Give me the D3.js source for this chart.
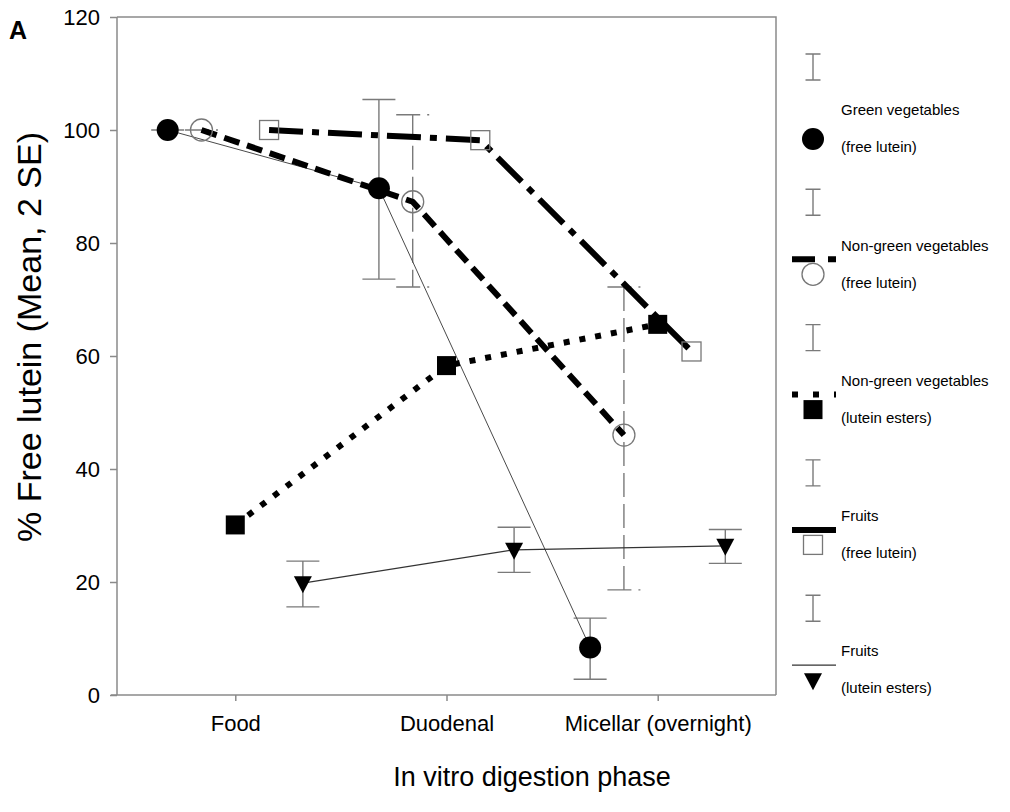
<!DOCTYPE html>
<html>
<head>
<meta charset="utf-8">
<script src="https://cdn.jsdelivr.net/npm/d3@7"></script>
<style>
  html, body { margin: 0; padding: 0; background: #fff; }
  svg text { font-family: "Liberation Sans", Arial, sans-serif; fill: #000; }
</style>
</head>
<body>
<svg id="chart" width="1010" height="812"></svg>
<script>
// Digestion phases along the x axis
const phases = ["Food", "Duodenal", "Micellar (overnight)"];
const yTicks = [0, 20, 40, 60, 80, 100, 120];

// % free lutein per phase (mean) and ±2 SE bounds
const greenFreeMean = [100, 89.7, 8.4];
const greenFreeHi   = [100, 105.4, 13.6];
const greenFreeLo   = [100, 73.6, 2.8];

const nonGreenFreeMean = [100, 87.3, 46.0];
const nonGreenFreeHi   = [100, 102.7, 72.2];
const nonGreenFreeLo   = [100, 72.2, 18.6];

const nonGreenEsterMean = [30.1, 58.3, 65.6];

const fruitFreeMean = [100, 98.2, 60.8];

const fruitEsterMean = [19.8, 25.7, 26.4];
const fruitEsterHi   = [23.7, 29.7, 29.3];
const fruitEsterLo   = [15.6, 21.7, 23.3];

const legendTitles = ["Green vegetables", "Non-green vegetables", "Non-green vegetables", "Fruits", "Fruits"];
const legendSubs = ["(free lutein)", "(free lutein)", "(lutein esters)", "(free lutein)", "(lutein esters)"];

const svg = d3.select("#chart");
const frame = { left: 117, right: 776, top: 17, bottom: 695 };

const x = d3.scaleLinear().domain([0.44, 3.56]).range([frame.left, frame.right]);
const y = d3.scaleLinear().domain([0, 120]).range([frame.bottom, frame.top]);

const axisGrey = "#8a8a8a";
const barGrey = "#7a7a7a";

// Series definitions: offset within each phase, line style and marker
const series = [
  { mean: greenFreeMean, hi: greenFreeHi, lo: greenFreeLo, offset: -0.32,
    stroke: "#4a4a4a", width: 1, dash: null, marker: "circle", barDash: null },
  { mean: nonGreenFreeMean, hi: nonGreenFreeHi, lo: nonGreenFreeLo, offset: -0.16,
    stroke: "#000", width: 6, dash: "16,8", marker: "openCircle", barDash: "24,7" },
  { mean: nonGreenEsterMean, offset: 0,
    stroke: "#000", width: 6, dash: "6,10", marker: "square" },
  { mean: fruitFreeMean, offset: 0.16,
    stroke: "#000", width: 6, dash: "34,9,7,9", marker: "openSquare" },
  { mean: fruitEsterMean, hi: fruitEsterHi, lo: fruitEsterLo, offset: 0.32,
    stroke: "#333", width: 1.2, dash: null, marker: "triangle", barDash: null }
];

// Frame (top and right edges) and axes
svg.append("path")
  .attr("d", `M${frame.left},${frame.top}H${frame.right}V${frame.bottom}`)
  .attr("fill", "none").attr("stroke", axisGrey).attr("stroke-width", 1.5);

const yAxis = svg.append("g")
  .attr("transform", `translate(${frame.left},0)`)
  .call(d3.axisLeft(y).tickValues(yTicks).tickSize(7).tickPadding(10));
yAxis.select(".domain").attr("stroke", axisGrey).attr("stroke-width", 1.5)
  .attr("d", `M0,${frame.top}V${frame.bottom}`);
yAxis.selectAll(".tick line").attr("stroke", axisGrey).attr("stroke-width", 1.5);
yAxis.selectAll(".tick text").attr("font-size", 22).attr("dy", "0.36em");

const xAxis = svg.append("g")
  .attr("transform", `translate(0,${frame.bottom})`)
  .call(d3.axisBottom(x).tickValues([1, 2, 3]).tickFormat((d) => phases[d - 1]).tickSize(6).tickPadding(14));
xAxis.select(".domain").attr("stroke", axisGrey).attr("stroke-width", 1.5)
  .attr("d", `M${frame.left - 6},0H${frame.right}`);
xAxis.selectAll(".tick line").attr("stroke", axisGrey).attr("stroke-width", 1.5);
xAxis.selectAll(".tick text").attr("font-size", 22);

// Axis titles and panel letter
svg.append("text").attr("x", 532).attr("y", 786).attr("text-anchor", "middle")
  .attr("font-size", 27).text("In vitro digestion phase");
svg.append("text").attr("transform", "translate(41,337) rotate(-90)").attr("text-anchor", "middle")
  .attr("font-size", 34).text("% Free lutein (Mean, 2 SE)");
svg.append("text").attr("x", 9).attr("y", 39).attr("font-size", 25).attr("font-weight", "bold").text("A");

const px = (s, i) => x(i + 1 + s.offset);

// Error bars
const capHalf = 16.5;
series.forEach((s) => {
  if (!s.hi) return;
  const g = svg.append("g").attr("stroke", barGrey).attr("stroke-width", 1.4).attr("fill", "none");
  s.mean.forEach((m, i) => {
    const cx = px(s, i);
    const path = d3.path();
    path.moveTo(cx, y(s.hi[i])); path.lineTo(cx, y(s.lo[i]));
    path.moveTo(cx - capHalf, y(s.hi[i])); path.lineTo(cx + capHalf, y(s.hi[i]));
    path.moveTo(cx - capHalf, y(s.lo[i])); path.lineTo(cx + capHalf, y(s.lo[i]));
    g.append("path").attr("d", path.toString()).attr("stroke-dasharray", s.barDash);
  });
});

// Connecting lines
const line = d3.line();
series.forEach((s) => {
  svg.append("path")
    .attr("d", line(s.mean.map((m, i) => [px(s, i), y(m)])))
    .attr("fill", "none").attr("stroke", s.stroke).attr("stroke-width", s.width)
    .attr("stroke-dasharray", s.dash);
});

// Marker drawing shared by plot and legend
function drawMarker(g, type, cx, cy) {
  if (type === "circle") {
    g.append("circle").attr("cx", cx).attr("cy", cy).attr("r", 11).attr("fill", "#000");
  } else if (type === "openCircle") {
    g.append("circle").attr("cx", cx).attr("cy", cy).attr("r", 11)
      .attr("fill", "none").attr("stroke", "#777").attr("stroke-width", 1.3);
  } else if (type === "square") {
    g.append("rect").attr("x", cx - 9.5).attr("y", cy - 9.5).attr("width", 19).attr("height", 19).attr("fill", "#000");
  } else if (type === "openSquare") {
    g.append("rect").attr("x", cx - 9.5).attr("y", cy - 9.5).attr("width", 19).attr("height", 19)
      .attr("fill", "none").attr("stroke", "#777").attr("stroke-width", 1.3);
  } else if (type === "triangle") {
    g.append("path").attr("d", `M${cx - 9},${cy - 7}L${cx + 9},${cy - 7}L${cx},${cy + 10}Z`).attr("fill", "#000");
  }
}

// Filled markers go under the open ones so the lines show through the open shapes
const markerLayer = svg.append("g");
["circle", "square", "triangle", "openCircle", "openSquare"].forEach((type) => {
  series.filter((s) => s.marker === type).forEach((s) => {
    s.mean.forEach((m, i) => drawMarker(markerLayer, type, px(s, i), y(m)));
  });
});

// Legend
const legendX = 813;
const legendTextX = 841;
const legendStep = 135.3;
const legendDash = [null, "23,13,8", "6,15", null, null];
const legendWidth = [0, 6, 6, 6, 1.2];
series.forEach((s, i) => {
  const top = 54 + i * legendStep;
  const g = svg.append("g");
  const eb = d3.path();
  eb.moveTo(legendX, top); eb.lineTo(legendX, top + 26);
  eb.moveTo(legendX - 7.5, top); eb.lineTo(legendX + 7.5, top);
  eb.moveTo(legendX - 7.5, top + 26); eb.lineTo(legendX + 7.5, top + 26);
  g.append("path").attr("d", eb.toString()).attr("stroke", barGrey).attr("stroke-width", 1.4).attr("fill", "none");
  if (legendWidth[i] > 0) {
    g.append("line").attr("x1", 792).attr("x2", 836).attr("y1", top + 70).attr("y2", top + 70)
      .attr("stroke", s.stroke).attr("stroke-width", legendWidth[i]).attr("stroke-dasharray", legendDash[i]);
  }
  drawMarker(g, s.marker, legendX, top + 85);
  g.append("text").attr("x", legendTextX).attr("y", top + 56).attr("dy", "0.35em")
    .attr("font-size", 15).text(legendTitles[i]);
  g.append("text").attr("x", legendTextX).attr("y", top + 93).attr("dy", "0.35em")
    .attr("font-size", 15).text(legendSubs[i]);
});
</script>
</body>
</html>
